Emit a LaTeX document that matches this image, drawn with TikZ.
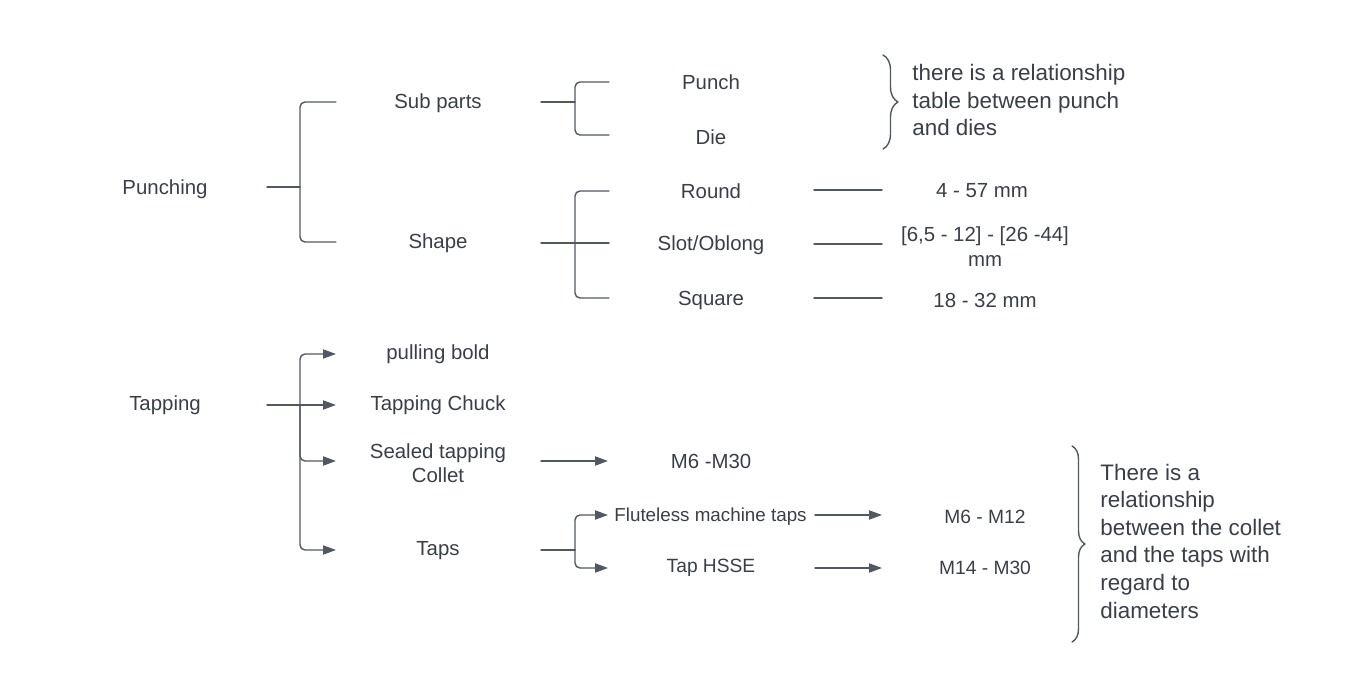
\documentclass[tikz,border=0pt]{standalone}
\usepackage{fontspec}
\setmainfont{Liberation Sans}
\usetikzlibrary{arrows.meta,decorations.pathreplacing}
\definecolor{ink}{HTML}{3A3F47}
\definecolor{wire}{HTML}{515862}
\begin{document}
\begin{tikzpicture}[x=0.5pt,y=-0.5pt,font=\fontsize{10.2}{12}\selectfont,text=ink,
  line join=round,line cap=round,
  lbl/.style={inner sep=0pt,align=center,yshift=-1pt},
  note/.style={inner sep=0pt,align=left,anchor=west,font=\fontsize{11.2}{13.8}\selectfont},
  brk/.style={draw=wire,line width=0.7pt,rounded corners=2.5pt},
  arr/.style={brk,-{Triangle[length=6.5pt,width=4.6pt]}},
  crl/.style={draw=wire,line width=0.7pt,decorate,decoration={brace,amplitude=#1}}]
\useasboundingbox (0,0) rectangle (1359,689);
% punching
\node[lbl] (punching) at (165,187) {Punching};
\node[lbl] (subparts) at (438,101) {Sub parts};
\node[lbl] (shape) at (438,241) {Shape};
\node[lbl] (punch) at (711,80) {Punch};
\node[lbl] (die) at (711,135) {Die};
\node[lbl] (round) at (711,189) {Round};
\node[lbl] (slot) at (711,243) {Slot/Oblong};
\node[lbl] (square) at (711,298) {Square};
\node[lbl] (round-d) at (982,189) {4 - 57 mm};
\node[lbl,font=\fontsize{10.2}{12.5}\selectfont] (slot-d) at (985,245) {[6,5 - 12] - [26 -44]\\mm};
\node[lbl] (square-d) at (985,298) {18 - 32 mm};
\node[note] (punch-note) at (912,100) {there is a relationship\\table between punch\\and dies};
\coordinate (pun-s) at (267,187);
\coordinate (pun-v) at (300,187);
\coordinate (sub-s) at (541,102);
\coordinate (sub-v) at (575,102);
\coordinate (shp-s) at (541,243);
\coordinate (shp-v) at (575,243);
\draw[brk] (pun-s) -- (pun-v);
\draw[brk] (336,102) -| (pun-v) |- (336,242);
\draw[brk] (sub-s) -- (sub-v);
\draw[brk] (609,82) -| (sub-v) |- (609,135);
\draw[brk] (shp-s) -- (609,243);
\draw[brk] (609,191) -| (shp-v) |- (609,298);
\foreach \y/\a in {190/round,244/slot,298/square}
  \draw[brk] (814,\y) -- (882,\y);
\draw[crl=7.5pt] (883,55) -- (883,149);
% tapping
\node[lbl] (tapping) at (165,403) {Tapping};
\node[lbl] (pulling) at (438,352) {pulling bold};
\node[lbl] (chuck) at (438,403) {Tapping Chuck};
\node[lbl] (collet) at (438,461) {Sealed tapping\\Collet};
\node[lbl] (taps) at (438,549) {Taps};
\node[lbl] (collet-d) at (711,459) {M6 -M30};
\node[lbl,anchor=west,font=\fontsize{9.4}{12}\selectfont] (fluteless) at (614,515) {Fluteless machine taps};
\node[lbl,font=\fontsize{9.6}{12}\selectfont] (hsse) at (711,566) {Tap HSSE};
\node[lbl,font=\fontsize{9.6}{12}\selectfont] (fluteless-d) at (985,515) {M6 - M12};
\node[lbl,font=\fontsize{9.6}{12}\selectfont] (hsse-d) at (985,566) {M14 - M30};
\node[note] (taps-note) at (1100,541) {There is a\\relationship\\between the collet\\and the taps with\\regard to\\diameters};
\coordinate (tap-s) at (267,405);
\coordinate (tap-v) at (300,405);
\coordinate (tps-s) at (541,550);
\coordinate (tps-v) at (575,550);
\draw[brk] (tap-s) -- (tap-v);
\draw[arr] (tap-v) |- (336,354);
\draw[arr] (tap-v) -- (336,405);
\draw[arr] (tap-v) |- (336,461);
\draw[arr] (tap-v) |- (336,550);
\draw[arr] (541,461) -- (608,461);
\draw[brk] (tps-s) -- (tps-v);
\draw[arr] (tps-v) |- (608,515);
\draw[arr] (tps-v) |- (608,568);
\draw[arr] (815,515) -- (882,515);
\draw[arr] (815,568) -- (882,568);
\draw[crl=6.5pt] (1072,446) -- (1072,642);
\end{tikzpicture}
\end{document}
